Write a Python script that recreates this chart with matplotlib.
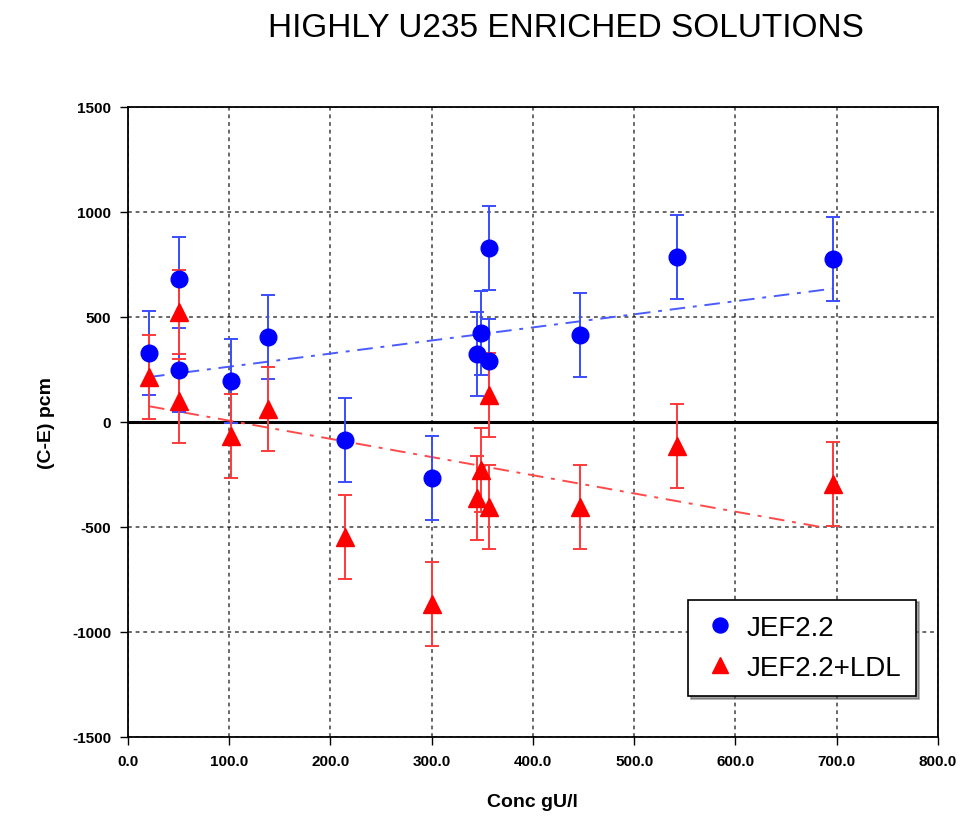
import matplotlib
matplotlib.use("Agg")
import matplotlib.pyplot as plt

# Concentration (gU/l) and C-E (pcm)
conc = [21, 51, 51, 102, 138, 214, 300, 345, 349, 357, 357, 447, 542, 696]
jef22 = [330, 680, 248, 195, 405, -86, -267, 324, 424, 829, 290, 414, 786, 776]
jef22_ldl = [214, 524, 100, -67, 62, -548, -867, -362, -229, -405, 129, -405, -114, -295]
err = [200] * 14

# trend line end points
trend_x = [21, 696]
trend_jef22 = [214, 635]
trend_ldl_x = [21, 690]
trend_ldl = [75, -505]

x_ticks = [0, 100, 200, 300, 400, 500, 600, 700, 800]
y_ticks = [-1500, -1000, -500, 0, 500, 1000, 1500]

plt.rcParams['font.family'] = ['Liberation Sans', 'DejaVu Sans']
plt.rcParams['axes.unicode_minus'] = False

fig = plt.figure(figsize=(9.68, 8.28), dpi=100)
ax = fig.add_axes([0.132, 0.1087, 0.837, 0.7609])

ax.grid(True, color='black', linestyle=(0, (2.5, 2.5)), linewidth=1.1, alpha=0.75)
ax.set_axisbelow(True)
ax.axhline(0, color='black', linewidth=2.2, zorder=2)

ax.plot(trend_x, trend_jef22, color='#4a5cff', linestyle=(0, (8, 4, 2, 4)), linewidth=1.4, zorder=3)
ax.plot(trend_ldl_x, trend_ldl, color='#ff4a4a', linestyle=(0, (8, 4, 2, 4)), linewidth=1.4, zorder=3)

ax.errorbar(conc, jef22, yerr=err, fmt='o', color='blue', ecolor='#3a4cff',
            markersize=12, capsize=5, elinewidth=1.4, capthick=1.4, label='JEF2.2', zorder=4)
ax.errorbar(conc, jef22_ldl, yerr=err, fmt='^', color='red', ecolor='#ff3a3a',
            markersize=13, capsize=5, elinewidth=1.4, capthick=1.4, label='JEF2.2+LDL', zorder=4)

ax.set_xlim(0, 800)
ax.set_ylim(-1500, 1500)
ax.set_xticks(x_ticks)
ax.set_xticklabels([f"{v:.1f}" for v in x_ticks])
ax.set_yticks(y_ticks)
ax.tick_params(direction='out', length=6, width=1, labelsize=11, pad=6)
for lab in ax.get_xticklabels() + ax.get_yticklabels():
    lab.set_fontweight('bold')
for s in ax.spines.values():
    s.set_linewidth(1.3)

ax.set_xlabel('Conc gU/l', fontsize=14, fontweight='bold', labelpad=18)
ax.set_ylabel('(C-E) pcm', fontsize=14, fontweight='bold', labelpad=12)
fig.text(0.585, 0.966, 'HIGHLY U235 ENRICHED SOLUTIONS', fontsize=24, ha='center', va='center')

handles, labels = ax.get_legend_handles_labels()
handles = [h[0] for h in handles]
leg = ax.legend(handles, labels, loc='lower right', bbox_to_anchor=(0.973, 0.065),
                borderaxespad=0, fontsize=20, frameon=True, fancybox=False, shadow=True,
                edgecolor='black', framealpha=1, handletextpad=0.35, handlelength=1.2,
                borderpad=0.55, labelspacing=0.5, markerscale=0.9)
leg.get_frame().set_linewidth(1.2)

fig.savefig('out.png', dpi=100)
